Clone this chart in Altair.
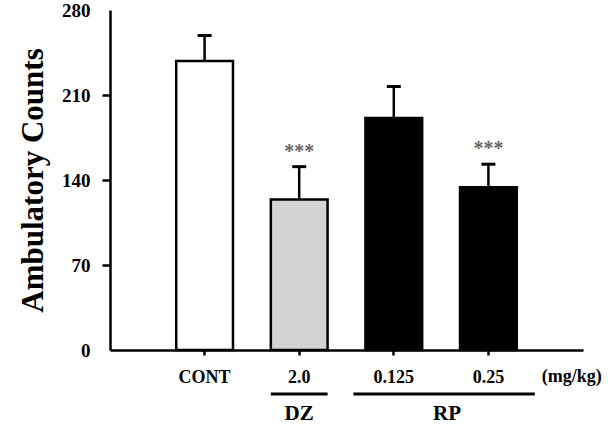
import altair as alt
import pandas as pd

# ---- data ----
categories = ["CONT", "2.0", "0.125", "0.25"]
means = [238, 124, 191, 134]
errors = [21, 27, 26, 19]
fills = ["#ffffff", "#d3d3d3", "#000000", "#000000"]
stars = ["", "***", "", "***"]
y_ticks = [0, 70, 140, 210, 280]
unit_label = "(mg/kg)"
group_names = ["DZ", "RP"]
group_start = ["2.0", "0.125"]
group_end = ["2.0", "0.25"]

FONT = "Liberation Serif"

df = pd.DataFrame({"cat": categories, "mean": means, "err": errors, "star": stars})
df["top"] = df["mean"] + df["err"]

x_enc = alt.X(
    "cat:N",
    sort=categories,
    scale=alt.Scale(domain=categories, paddingInner=0.4, paddingOuter=0.7),
    axis=alt.Axis(
        title=None, labelAngle=0, labelFont=FONT, labelFontSize=18,
        labelFontWeight="bold", labelColor="black", labelBaseline="alphabetic",
        labelPadding=27, tickSize=5, tickWidth=2.5, tickColor="black",
        domainColor="black", domainWidth=2.5,
    ),
)
y_enc = alt.Y(
    "mean:Q",
    scale=alt.Scale(domain=[0, 280], nice=False),
    axis=alt.Axis(
        values=y_ticks, grid=False, title="Ambulatory Counts",
        titleFont=FONT, titleFontSize=31, titleFontWeight="bold", titleColor="black",
        titleX=-68, titleY=170, titleAngle=-90, titleBaseline="alphabetic",
        titleAlign="center",
        labelFont=FONT, labelFontSize=19, labelFontWeight="bold", labelColor="black",
        labelPadding=12, tickSize=8, tickWidth=2.5,
        tickColor={"condition": {"test": "datum.value == 0 || datum.value == 280",
                                 "value": "transparent"}, "value": "black"},
        domainColor="black", domainWidth=2.5,
    ),
)

base = alt.Chart(df)

bars = base.mark_bar(stroke="black", strokeWidth=2.5).encode(
    x=x_enc,
    y=y_enc,
    fill=alt.Fill("cat:N", scale=alt.Scale(domain=categories, range=fills), legend=None),
)

stems = base.mark_rule(color="black", strokeWidth=2.5).encode(
    x=alt.X("cat:N"), y=alt.Y("mean:Q"), y2="top:Q"
)

caps = base.mark_tick(color="black", thickness=3, size=14, opacity=1).encode(
    x=alt.X("cat:N"), y=alt.Y("top:Q")
)

star_text = base.transform_filter("datum.star != ''").mark_text(
    font=FONT, fontSize=20, fontWeight="bold", color="#666666", baseline="middle", dy=-15
).encode(x=alt.X("cat:N"), y=alt.Y("top:Q"), text="star:N")

grp_df = pd.DataFrame({"grp": group_names, "cat": group_start, "cat_end": group_end})

dz_line = alt.Chart(grp_df.iloc[[0]]).mark_rule(color="black", strokeWidth=3).encode(
    x=alt.X("cat:N", bandPosition=0), x2=alt.X2("cat_end:N", bandPosition=1),
    y=alt.value(384),
)
rp_line = alt.Chart(grp_df.iloc[[1]]).mark_rule(
    color="black", strokeWidth=3, xOffset=-12, x2Offset=18
).encode(
    x=alt.X("cat:N", bandPosition=0), x2=alt.X2("cat_end:N", bandPosition=1),
    y=alt.value(384),
)

dz_text = alt.Chart(grp_df.iloc[[0]]).mark_text(
    font=FONT, fontSize=21, fontWeight="bold", color="black", baseline="alphabetic"
).encode(x=alt.X("cat:N", bandPosition=0.5), y=alt.value(410), text="grp:N")

rp_text = alt.Chart(grp_df.iloc[[1]]).mark_text(
    font=FONT, fontSize=21, fontWeight="bold", color="black", baseline="alphabetic", dx=-13
).encode(x=alt.X("cat_end:N", bandPosition=0), y=alt.value(410), text="grp:N")

unit_df = pd.DataFrame({"cat": [categories[-1]], "txt": [unit_label]})
unit_text = alt.Chart(unit_df).mark_text(
    font=FONT, fontSize=18, fontWeight="bold", color="black",
    baseline="alphabetic", align="left", dx=25
).encode(x=alt.X("cat:N", bandPosition=1), y=alt.value(372), text="txt:N")

chart = alt.layer(
    bars, stems, caps, star_text, dz_line, rp_line, dz_text, rp_text, unit_text
).properties(
    width=473, height=340,
    padding={"left": 110, "top": 10, "right": 25, "bottom": 76},
    autosize=alt.AutoSizeParams(type="none"),
    background="white",
).configure_view(stroke=None)

chart.save("out.html", embed_options={"renderer": "svg", "actions": False})
